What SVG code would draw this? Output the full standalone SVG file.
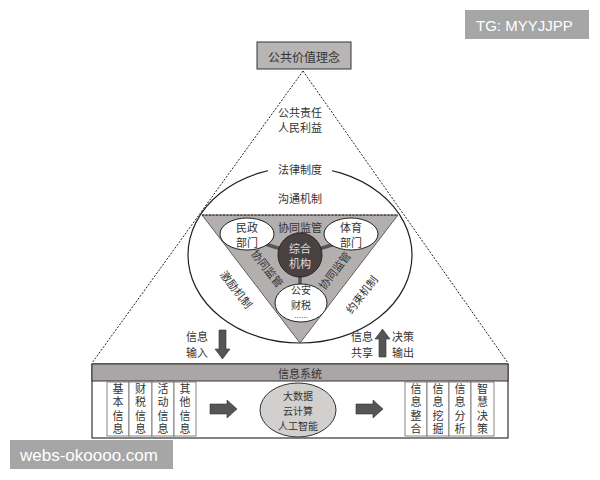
<svg xmlns="http://www.w3.org/2000/svg" width="600" height="480" viewBox="0 0 600 480">
<style>
text{font-family:"Noto Sans CJK SC","Noto Sans",sans-serif;font-size:11px;fill:#333;text-anchor:middle;dominant-baseline:central}
.t12{font-size:12px}
.sm{font-size:10px}
.dots{font-size:7px}
.vt{writing-mode:vertical-rl;letter-spacing:2.4px;font-size:11px}
.light{fill:#ddd}
.dash{stroke:#222;stroke-width:1;stroke-dasharray:2 1.5;fill:none}
.box{fill:#fff;stroke:#666;stroke-width:0.8}
.bar{fill:#aaa6a6;stroke:#333;stroke-width:1}
.ell{fill:#fff;stroke:#222;stroke-width:1}
.link{stroke:#555;stroke-width:3.5}
.arr{fill:#555;stroke:#333;stroke-width:0.6}
.wm{fill:#a6a6a6}
.wmt{font-family:"Liberation Sans",Arial,sans-serif;fill:#fff;text-anchor:start}
.wm15{font-size:15px}
.wm17{font-size:17px}
</style>
<rect width="600" height="480" fill="#fff"/>
<g id="connectors">
  <line class="dash" x1="303" y1="71" x2="92" y2="363"/>
  <line class="dash" x1="303" y1="71" x2="508" y2="363"/>
</g>
<g id="top-value">
  <rect x="257" y="42" width="94" height="27" fill="#b9b5b5" stroke="#333" stroke-width="1"/>
  <text class="t12" x="304" y="56">公共价值理念</text>
</g>
<g id="responsibility">
  <text x="300" y="112">公共责任</text>
  <text x="300" y="127">人民利益</text>
</g>
<g id="law-ellipse">
  <ellipse cx="300" cy="255" rx="112" ry="88" fill="none" stroke="#222" stroke-width="1.2"/>
  <rect x="268" y="160" width="64" height="18" fill="#fff"/>
  <text x="300" y="169">法律制度</text>
  <text x="300" y="198">沟通机制</text>
  <text x="237" y="289" transform="rotate(52 237 289)">激励机制</text>
  <text x="361" y="294" transform="rotate(-52 361 294)">约束机制</text>
</g>
<g id="inner-triangle">
  <polygon points="202,215 398,215 300,343" fill="#b3afaf" stroke="#444" stroke-width="0.8"/>
  <line class="dash" x1="202" y1="215" x2="398" y2="215"/>
  <text x="300" y="227">协同监管</text>
  <text x="268" y="268" transform="rotate(52 268 268)">协同监管</text>
  <text x="334" y="270" transform="rotate(-52 334 270)">协同监管</text>
</g>
<g id="center-links">
  <line class="link" x1="300" y1="255" x2="262" y2="243"/>
  <line class="link" x1="300" y1="255" x2="338" y2="243"/>
  <line class="link" x1="300" y1="255" x2="300" y2="288"/>
</g>
<g id="minzheng">
  <ellipse class="ell" cx="247" cy="234" rx="27" ry="16"/>
  <text x="247" y="227">民政</text>
  <text x="247" y="242">部门</text>
</g>
<g id="tiyu">
  <ellipse class="ell" cx="351" cy="234" rx="27" ry="16"/>
  <text x="351" y="227">体育</text>
  <text x="351" y="242">部门</text>
</g>
<g id="gongan">
  <ellipse class="ell" cx="301" cy="303" rx="26" ry="19"/>
  <text class="sm" x="301" y="289.5">公安</text>
  <text class="sm" x="301" y="304">财税</text>
  <text class="dots" x="301" y="316.5">……</text>
</g>
<g id="zonghe">
  <circle cx="300" cy="255" r="22" fill="#4a4242" stroke="#222" stroke-width="1"/>
  <text class="light" x="300" y="248">综合</text>
  <text class="light" x="300" y="263">机构</text>
</g>
<g id="flow-arrows">
  <polygon class="arr" points="219,330 226,330 226,349 230,349 222.5,359 215,349 219,349"/>
  <text x="197" y="336">信息</text>
  <text x="197" y="352">输入</text>
  <polygon class="arr" points="379,357 386,357 386,339 390,339 382.5,329 375,339 379,339"/>
  <text x="362" y="336">信息</text>
  <text x="362" y="352">共享</text>
  <text x="403" y="336">决策</text>
  <text x="403" y="352">输出</text>
</g>
<g id="info-system">
  <rect x="92" y="364" width="416" height="74" fill="#fff" stroke="#333" stroke-width="1.2"/>
  <rect class="bar" x="92" y="364" width="416" height="17"/>
  <text x="300" y="373">信息系统</text>
</g>
<g id="inputs">
  <rect class="box" x="107" y="382" width="22" height="54"/>
  <rect class="box" x="129" y="382" width="23" height="54"/>
  <rect class="box" x="152" y="382" width="22" height="54"/>
  <rect class="box" x="174" y="382" width="22" height="54"/>
  <text class="vt" x="118" y="410">基本信息</text>
  <text class="vt" x="140.5" y="410">财税信息</text>
  <text class="vt" x="163" y="410">活动信息</text>
  <text class="vt" x="185" y="410">其他信息</text>
</g>
<g id="arrow-right-1">
  <polygon class="arr" points="210,404 227,404 227,400 237,409 227,418 227,414 210,414"/>
</g>
<g id="bigdata">
  <ellipse cx="298" cy="410" rx="38" ry="27" fill="#d2cfcf" stroke="#333" stroke-width="1"/>
  <text class="sm" x="298" y="395">大数据</text>
  <text class="sm" x="298" y="410">云计算</text>
  <text class="sm" x="298" y="425">人工智能</text>
</g>
<g id="arrow-right-2">
  <polygon class="arr" points="356,404 373,404 373,400 383,409 373,418 373,414 356,414"/>
</g>
<g id="outputs">
  <rect class="box" x="405" y="382" width="22" height="54"/>
  <rect class="box" x="427" y="382" width="22" height="54"/>
  <rect class="box" x="449" y="382" width="22" height="54"/>
  <rect class="box" x="471" y="382" width="23" height="54"/>
  <text class="vt" x="416" y="410">信息整合</text>
  <text class="vt" x="438" y="410">信息挖掘</text>
  <text class="vt" x="460" y="410">信息分析</text>
  <text class="vt" x="482.5" y="410">智慧决策</text>
</g>
<g id="watermark-tg">
  <rect class="wm" x="465" y="10" width="124" height="29"/>
  <text class="wmt wm15" x="476" y="25">TG: MYYJJPP</text>
</g>
<g id="watermark-web">
  <rect class="wm" x="10" y="440" width="163" height="29"/>
  <text class="wmt wm17" x="20" y="455">webs-okoooo.com</text>
</g>
</svg>
